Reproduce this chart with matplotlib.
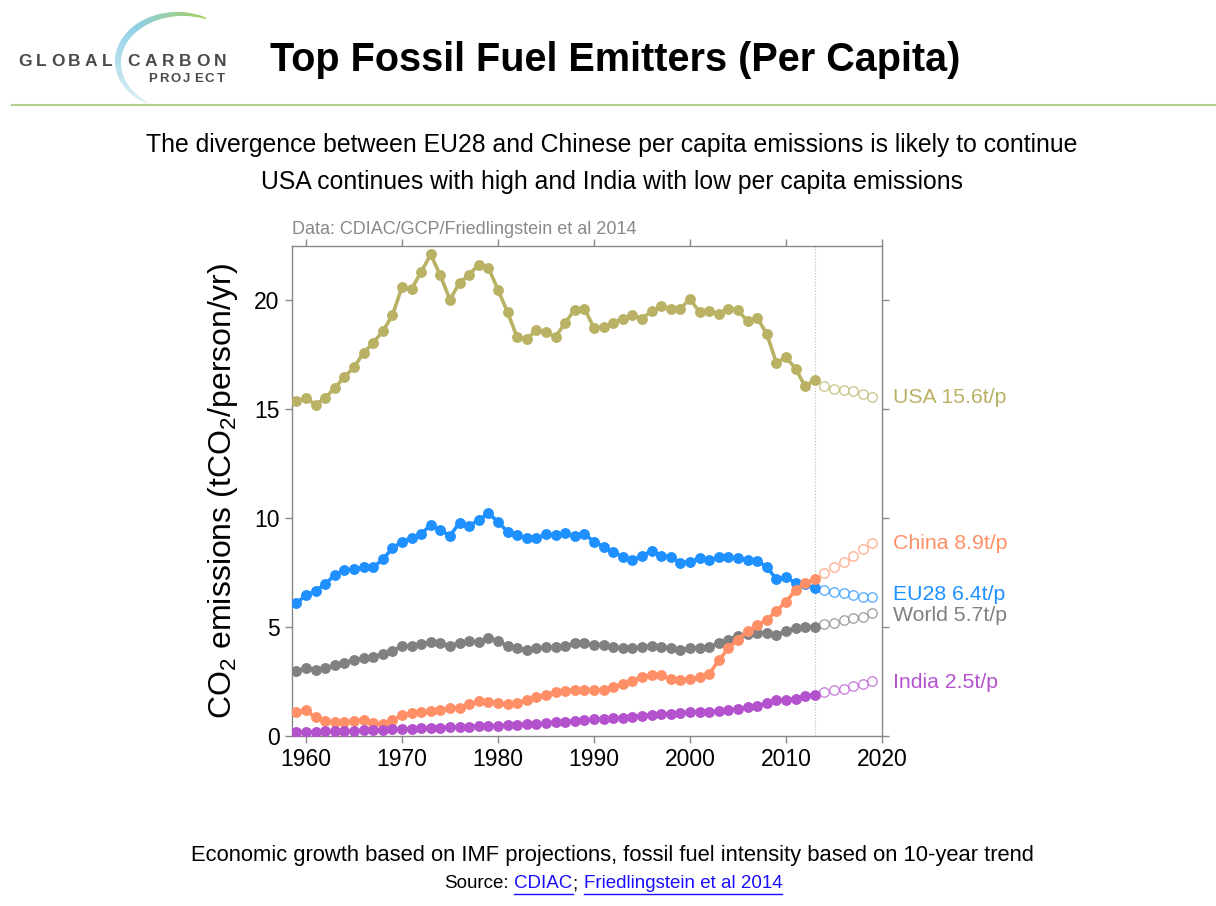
import numpy as np
import matplotlib
matplotlib.use('Agg')
import matplotlib.pyplot as plt
from matplotlib import font_manager
from matplotlib.collections import LineCollection
from matplotlib.colors import to_rgb

# Per capita fossil fuel CO2 emissions (tCO2/person/yr), 1959-2013
hist_years = np.arange(1959, 2014)
usa = [15.36, 15.52, 15.21, 15.52, 15.98, 16.48, 16.93, 17.59, 18.05, 18.58,
       19.31, 20.61, 20.53, 21.31, 22.11, 21.15, 20.04, 20.81, 21.19, 21.65,
       21.50, 20.50, 19.46, 18.31, 18.23, 18.63, 18.54, 18.33, 18.97, 19.58,
       19.63, 18.74, 18.77, 18.97, 19.17, 19.31, 19.17, 19.50, 19.73, 19.63,
       19.63, 20.07, 19.46, 19.50, 19.40, 19.63, 19.55, 19.04, 19.20, 18.46,
       17.13, 17.40, 16.87, 16.05, 16.36]
eu28 = [6.09, 6.47, 6.66, 6.98, 7.39, 7.62, 7.65, 7.74, 7.74, 8.11,
        8.62, 8.92, 9.08, 9.28, 9.69, 9.46, 9.19, 9.80, 9.65, 9.92,
        10.23, 9.84, 9.38, 9.23, 9.08, 9.08, 9.26, 9.23, 9.31, 9.19,
        9.28, 8.92, 8.69, 8.46, 8.23, 8.08, 8.27, 8.50, 8.27, 8.23,
        7.96, 8.00, 8.16, 8.08, 8.20, 8.23, 8.16, 8.08, 8.04, 7.77,
        7.19, 7.31, 7.01, 6.96, 6.78]
world = [2.99, 3.10, 3.05, 3.10, 3.25, 3.36, 3.48, 3.56, 3.63, 3.76,
         3.91, 4.13, 4.13, 4.22, 4.32, 4.25, 4.13, 4.29, 4.36, 4.32,
         4.48, 4.36, 4.14, 4.02, 3.94, 4.02, 4.07, 4.10, 4.14, 4.25,
         4.25, 4.20, 4.20, 4.10, 4.02, 4.02, 4.10, 4.14, 4.10, 4.02,
         3.97, 4.02, 4.05, 4.07, 4.28, 4.43, 4.59, 4.68, 4.74, 4.74,
         4.63, 4.83, 4.94, 4.99, 5.01]
china = [1.10, 1.18, 0.85, 0.69, 0.64, 0.64, 0.69, 0.75, 0.60, 0.57,
         0.72, 0.95, 1.06, 1.10, 1.15, 1.18, 1.29, 1.30, 1.46, 1.60,
         1.56, 1.52, 1.46, 1.52, 1.64, 1.77, 1.90, 2.00, 2.06, 2.13,
         2.10, 2.10, 2.13, 2.25, 2.38, 2.52, 2.71, 2.82, 2.79, 2.61,
         2.56, 2.60, 2.69, 2.84, 3.48, 4.02, 4.43, 4.82, 5.09, 5.32,
         5.75, 6.16, 6.70, 7.04, 7.19]
india = [0.17, 0.19, 0.20, 0.21, 0.22, 0.23, 0.24, 0.26, 0.27, 0.28,
         0.30, 0.33, 0.34, 0.35, 0.36, 0.38, 0.40, 0.41, 0.43, 0.46,
         0.45, 0.47, 0.50, 0.52, 0.54, 0.56, 0.60, 0.62, 0.65, 0.69,
         0.72, 0.76, 0.79, 0.82, 0.84, 0.89, 0.93, 0.97, 1.00, 1.01,
         1.07, 1.08, 1.10, 1.11, 1.13, 1.19, 1.24, 1.31, 1.40, 1.50,
         1.64, 1.66, 1.70, 1.82, 1.90]

# Projections 2014-2019
proj_years = np.arange(2014, 2020)
usa_proj = [16.05, 15.95, 15.90, 15.86, 15.72, 15.55]
eu28_proj = [6.70, 6.60, 6.55, 6.47, 6.40, 6.37]
world_proj = [5.12, 5.20, 5.32, 5.40, 5.47, 5.63]
china_proj = [7.47, 7.75, 8.00, 8.27, 8.57, 8.85]
india_proj = [2.02, 2.10, 2.18, 2.29, 2.38, 2.52]

series_names = ["USA", "World", "EU28", "China", "India"]
series_hist = [usa, world, eu28, china, india]
series_proj = [usa_proj, world_proj, eu28_proj, china_proj, india_proj]
series_labels = ["USA 15.6t/p", "World 5.7t/p", "EU28 6.4t/p", "China 8.9t/p", "India 2.5t/p"]
label_y = [15.53, 5.55, 6.52, 8.86, 2.47]
colors = ["#B9B265", "#808080", "#1E90FF", "#FF8F66", "#B452CD"]


def pick_font(candidates):
    for name in candidates:
        try:
            font_manager.findfont(name, fallback_to_default=False)
            return name
        except Exception:
            continue
    return "DejaVu Sans"


narrow = pick_font(["Liberation Sans Narrow", "Liberation Sans"])
is_narrow = narrow == "Liberation Sans Narrow"
plotfont = pick_font(["Liberation Sans", "DejaVu Sans"])
plt.rcParams['font.family'] = [plotfont, 'DejaVu Sans']

fig = plt.figure(figsize=(12.16, 9.06), dpi=100)

# background layer in pixel coordinates for slide decorations
bg = fig.add_axes([0, 0, 1, 1], zorder=-1)
bg.set_xlim(0, 1216)
bg.set_ylim(906, 0)
bg.axis('off')

# logo arc
t = np.radians(np.linspace(65, 238, 120))
arc_x = 180 + 62 * np.cos(t)
arc_y = 62 - 48 * np.sin(t)
pts = np.column_stack([arc_x, arc_y]).reshape(-1, 1, 2)
segs = np.concatenate([pts[:-1], pts[1:]], axis=1)
green = np.array(to_rgb("#A6CF5A"))
blue = np.array(to_rgb("#8FD0E6"))
pale = np.array(to_rgb("#DDF0F5"))
frac = np.linspace(0, 1, len(segs))
seg_cols = []
for f in frac:
    if f < 0.4:
        c = green + (blue - green) * (f / 0.4)
    else:
        c = blue + (pale - blue) * ((f - 0.4) / 0.6)
    seg_cols.append(c)
widths = 0.8 + 3.5 * np.sin(np.pi * frac) ** 0.7
bg.add_collection(LineCollection(segs, colors=seg_cols, linewidths=widths, capstyle='round'))

for i, ch in enumerate("GLOBAL"):
    bg.text(25 + i * 16.5, 62, ch, fontsize=12.5, color="#4A4A4A", ha='center', va='center',
            fontweight='bold', family='Liberation Sans')
for i, ch in enumerate("CARBON"):
    bg.text(133 + i * 17.5, 62, ch, fontsize=12.5, color="#4A4A4A", ha='center', va='center',
            fontweight='bold', family='Liberation Sans')
for i, ch in enumerate("PROJECT"):
    bg.text(153 + i * 11.3, 79, ch, fontsize=9.5, color="#4A4A4A", ha='center', va='center',
            fontweight='bold', family='Liberation Sans')

bg.plot([12, 1216], [105, 105], color="#B5D08A", lw=1.5)

title_size = 33 if is_narrow else 28.5
sub_size = 21 if is_narrow else 17.8
foot_size = 19 if is_narrow else 15.8
src_size = 16 if is_narrow else 13.5
bg.text(615, 60, "Top Fossil Fuel Emitters (Per Capita)", fontsize=title_size, fontweight='bold',
        ha='center', va='center', family=narrow)
bg.text(612, 145, "The divergence between EU28 and Chinese per capita emissions is likely to continue",
        fontsize=sub_size, ha='center', va='center', family=narrow)
bg.text(612, 182, "USA continues with high and India with low per capita emissions",
        fontsize=sub_size, ha='center', va='center', family=narrow)
bg.text(612, 856, "Economic growth based on IMF projections, fossil fuel intensity based on 10-year trend",
        fontsize=foot_size, ha='center', va='center', family=narrow)

# source line with underlined links
link = "#1A0DFF"
pieces = [("Source:", "black", False, 6), ("CDIAC", link, True, 0), (";", "black", False, 6),
          ("Friedlingstein et al 2014", link, True, 0)]
src_texts = []
for s, c, u, gap in pieces:
    src_texts.append(bg.text(0, 884, s, color=c, fontsize=src_size, ha='left', va='center',
                             family=narrow))
fig.canvas.draw()
renderer = fig.canvas.get_renderer()
ws = [tx.get_window_extent(renderer).width for tx in src_texts]
total = sum(ws) + sum(p[3] for p in pieces)
x0 = 613 - total / 2
for tx, w, (s, c, u, gap) in zip(src_texts, ws, pieces):
    tx.set_x(x0)
    if u:
        bg.plot([x0, x0 + w], [894, 894], color=c, lw=1)
    x0 += w + gap

# main chart
ax = fig.add_axes([292 / 1216, 1 - 736 / 906, 590 / 1216, 490 / 906])
for name, h, p, col in zip(series_names, series_hist, series_proj, colors):
    ax.plot(hist_years, h, color=col, lw=2.6, marker='o', markersize=6.8, zorder=3)
    ax.plot(proj_years, p, linestyle='none', marker='o', markersize=6.8, markerfacecolor='white',
            markeredgecolor=col, markeredgewidth=1.0, alpha=0.7, zorder=3)

ax.axvline(2013, color="#BBBBBB", lw=0.8, linestyle=':', zorder=1)

for lab, ly, col in zip(series_labels, label_y, colors):
    ax.text(2021.1, ly, lab, color=col, fontsize=15.3, ha='left', va='center', clip_on=False)

ax.set_xlim(1958.55, 2020)
ax.set_ylim(0, 22.5)
ax.set_xticks([1960, 1970, 1980, 1990, 2000, 2010, 2020])
ax.set_yticks([0, 5, 10, 15, 20])
ax.tick_params(direction='out', length=5, width=1, color="#888888", labelsize=16.5,
               top=True, right=True, pad=4)
for sp in ax.spines.values():
    sp.set_color("#888888")
    sp.set_linewidth(1)
ax.set_ylabel("$\\mathregular{CO_2}$ emissions (t$\\mathregular{CO_2}$/person/yr)", fontsize=23,
              labelpad=10)
ax.text(0, 1.033, "Data: CDIAC/GCP/Friedlingstein et al 2014", transform=ax.transAxes,
        fontsize=13, color="#888888", ha='left', va='center')

fig.savefig("out.png", dpi=100)
